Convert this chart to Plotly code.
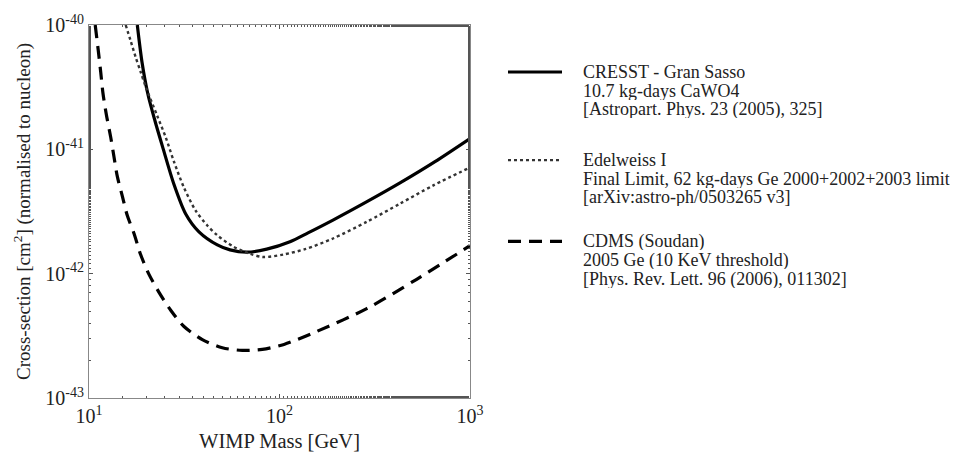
import plotly.graph_objects as go

# WIMP mass [GeV] and log10 of cross-section [cm^2]
cresst_mass = [17.93, 18.98, 20.40, 22.21, 24.47, 27.94, 32.19, 37.79, 47.16, 55.0,
               67.3, 85.7, 113.5, 141.1, 190.9, 284.6, 429.1, 655.1, 1000]
cresst_logxs = [-40.0, -40.299, -40.559, -40.772, -40.992, -41.283, -41.520, -41.664,
                -41.769, -41.809, -41.827, -41.803, -41.743, -41.672, -41.569, -41.425,
                -41.270, -41.099, -40.913]

edel_mass = [15.58, 16.55, 17.59, 18.68, 19.84, 22.83, 25.27, 27.94, 31.53, 36.32, 41.78,
             47.16, 57.2, 70.0, 82.2, 104.7, 136.1, 190.9, 287, 429.1, 642, 1000]
edel_logxs = [-40.0, -40.128, -40.260, -40.378, -40.496, -40.732, -40.903, -41.100,
              -41.309, -41.494, -41.612, -41.691, -41.782, -41.840, -41.866, -41.846,
              -41.803, -41.717, -41.583, -41.437, -41.290, -41.146]

cdms_mass = [10.78, 11.19, 11.52, 11.84, 12.33, 13.0, 13.53, 14.08, 14.96, 15.89, 17.23,
             18.68, 20.65, 23.31, 26.85, 31.53, 39.34, 50.1, 63.8, 81.2, 105.6, 156.8,
             287, 525, 1000]
cdms_logxs = [-40.0, -40.207, -40.378, -40.549, -40.719, -40.903, -41.061, -41.218,
              -41.376, -41.533, -41.677, -41.848, -42.006, -42.150, -42.294, -42.425,
              -42.530, -42.596, -42.617, -42.609, -42.569, -42.465, -42.281, -42.045,
              -41.775]

x_ticks = [10, 100, 1000]
x_ticktext = ["10<sup>1</sup>", "10<sup>2</sup>", "10<sup>3</sup>"]
y_ticks = [1e-43, 1e-42, 1e-41, 1e-40]
y_ticktext = ["10<sup>-43</sup>", "10<sup>-42</sup>", "10<sup>-41</sup>", "10<sup>-40</sup>"]

legend_entries = [
    ("CRESST - Gran Sasso", "10.7 kg-days CaWO4", "[Astropart. Phys. 23 (2005), 325]"),
    ("Edelweiss I", "Final Limit, 62 kg-days Ge 2000+2002+2003 limit", "[arXiv:astro-ph/0503265 v3]"),
    ("CDMS (Soudan)", "2005 Ge (10 KeV threshold)", "[Phys. Rev. Lett. 96 (2006), 011302]"),
]
styles = [dict(color="black", width=3.2, dash="solid"),
          dict(color="#333333", width=2.4, dash="dot"),
          dict(color="black", width=3.2, dash="13px,8px")]

FONT = "Liberation Serif, Times New Roman, serif"
fig = go.Figure()
series = [(cresst_mass, cresst_logxs), (edel_mass, edel_logxs), (cdms_mass, cdms_logxs)]
for (mx, lx), st in zip(series, styles):
    fig.add_trace(go.Scatter(x=mx, y=[10 ** v for v in lx], mode="lines",
                             line=dict(shape="spline", smoothing=0.8, **st),
                             showlegend=False, hoverinfo="skip"))

W, H = 957, 463
L, R, T, B = 89, 470, 17, 398
pw, ph = R - L, B - T

def px(x):
    return (x - L) / pw

def py(y):
    return (B - y) / ph

row_y = [65, 155, 238]
for i, (entry, st) in enumerate(zip(legend_entries, styles)):
    y0 = row_y[i]
    fig.add_shape(type="line", xref="paper", yref="paper", x0=px(508), x1=px(562),
                  y0=py(y0), y1=py(y0), line=st)
    for j, t in enumerate(entry):
        fig.add_annotation(text=t, xref="paper", yref="paper", x=px(581), y=py(y0 + 19 * j),
                           xanchor="left", yanchor="middle", showarrow=False,
                           height=18, valign="middle",
                           font=dict(family=FONT, size=18, color="#222"))

axis_common = dict(type="log", showgrid=False, ticks="inside", ticklen=4, tickcolor="#555",
                   mirror="allticks", showline=True, linecolor="#888", linewidth=1.2,
                   tickfont=dict(family=FONT, size=20, color="#222"),
                   minor=dict(ticks="inside", ticklen=2, tickcolor="#555", showgrid=False),
                   zeroline=False)
fig.update_xaxes(range=[1, 3], tickvals=x_ticks, ticktext=x_ticktext,
                 title=dict(text="WIMP Mass [GeV]", font=dict(family=FONT, size=20.5, color="#222"), standoff=7),
                 **axis_common)
fig.update_yaxes(range=[-43, -40], tickvals=y_ticks, ticktext=y_ticktext,
                 title=dict(text="Cross-section [cm<sup>2</sup>] (normalised to nucleon)",
                            font=dict(family=FONT, size=19, color="#222"), standoff=9),
                 **axis_common)
fig.update_layout(width=W, height=H, margin=dict(l=L, r=W - R, t=T, b=H - B),
                  plot_bgcolor="white", paper_bgcolor="white")
fig.write_html("out.html")
